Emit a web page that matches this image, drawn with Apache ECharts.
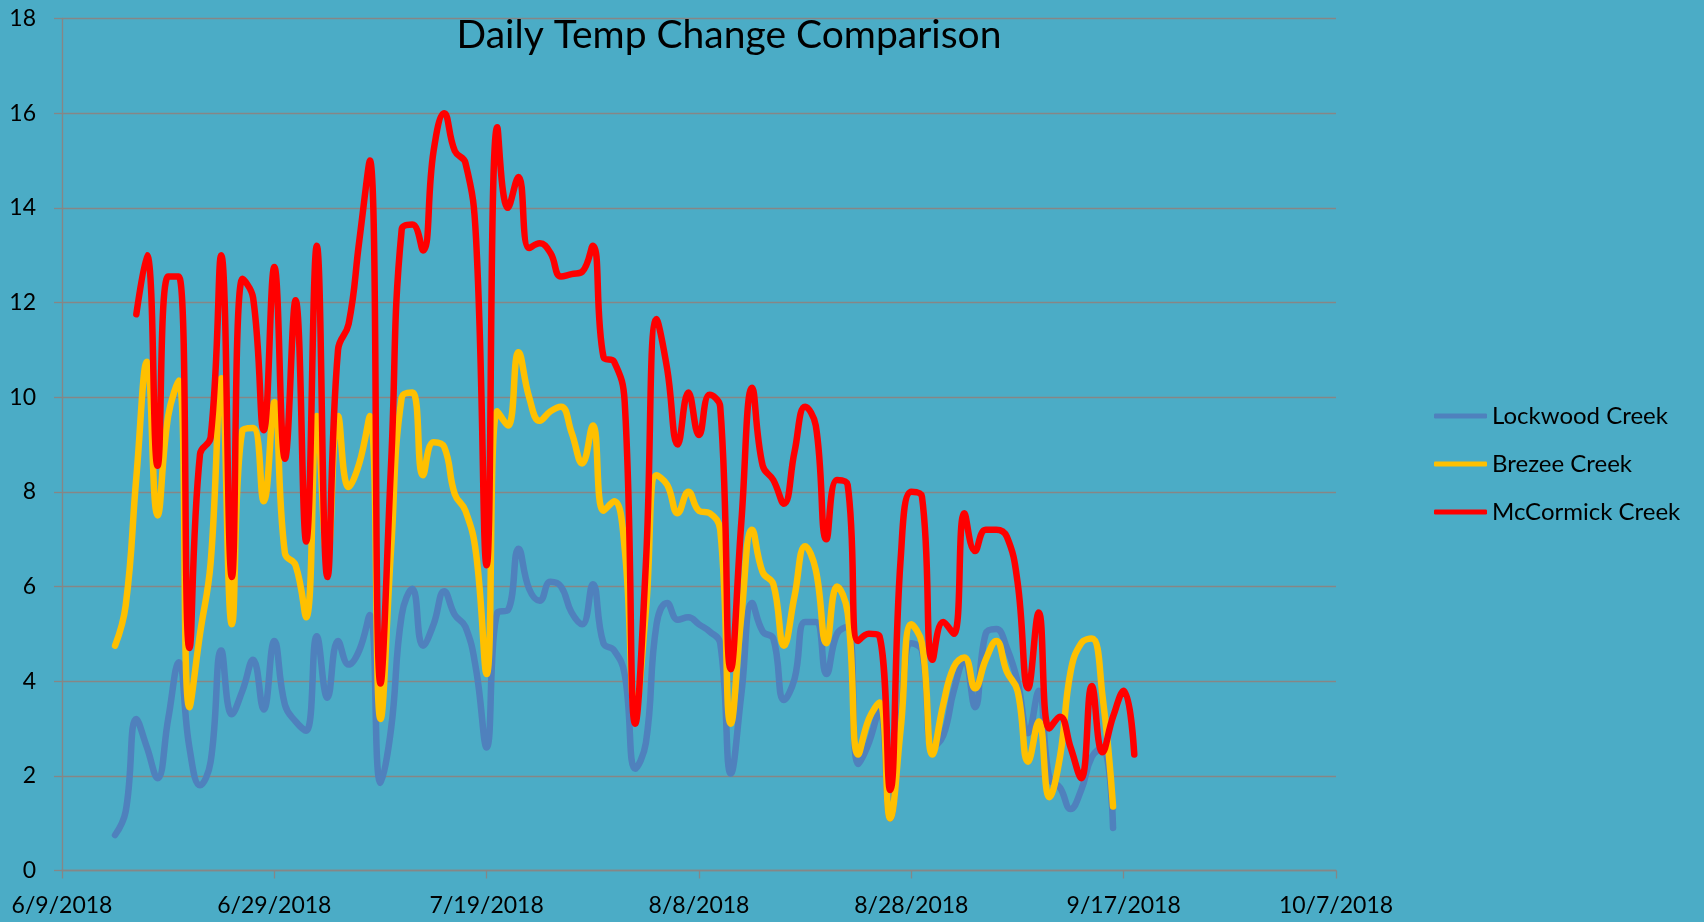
<!DOCTYPE html>
<html>
<head>
<meta charset="utf-8">
<script src="https://cdn.jsdelivr.net/npm/echarts@6/dist/echarts.min.js"></script>
<style>
  html, body { margin: 0; padding: 0; background: #4BACC6; }
  #chart { width: 1704px; height: 922px; }
</style>
</head>
<body>
<div id="chart"></div>
<script>
// ---- Data ----
const chartTitle = 'Daily Temp Change Comparison';
const axisOrigin = '2018-06-09';
const xTickLabels = ['6/9/2018', '6/29/2018', '7/19/2018', '8/8/2018', '8/28/2018', '9/17/2018', '10/7/2018'];
const yTickValues = [0, 2, 4, 6, 8, 10, 12, 14, 16, 18];

const seriesNames = ['Lockwood Creek', 'Brezee Creek', 'McCormick Creek'];

// daily values, first value on the given start date
const lockwoodStart = '2018-06-14';
const lockwoodValues = [
  0.75, 1.25, 3.2, 2.6, 1.95, 3.2, 4.4, 2.6, 1.8, 2.3,
  4.65, 3.3, 3.8, 4.45, 3.4, 4.85, 3.5, 3.15, 2.95, 4.95,
  3.65, 4.85, 4.35, 4.65, 5.4, 1.85, 3.0, 5.4, 5.95, 4.75,
  5.2, 5.9, 5.4, 5.15, 4.25, 2.6, 5.45, 5.5, 6.8, 5.95,
  5.7, 6.1, 6.0, 5.45, 5.2, 6.05, 4.8, 4.65, 4.15, 2.15,
  2.7, 5.2, 5.65, 5.3, 5.35, 5.2, 5.05, 4.8, 2.05, 3.75,
  5.65, 5.05, 4.9, 3.6, 4.05, 5.25, 5.25, 4.15, 5.0, 5.15,
  2.25, 2.7, 3.4, 1.1, 3.2, 4.8, 4.65, 2.6, 2.85, 3.8,
  4.45, 3.45, 5.0, 5.1, 4.7, 4.0, 2.9, 3.8, 1.95, 1.75,
  1.3, 1.7, 2.4, 2.6, 0.9
];

const brezeeStart = '2018-06-14';
const brezeeValues = [
  4.75, 5.6, 8.3, 10.75, 7.5, 9.6, 10.35, 3.45, 5.0, 6.5,
  10.4, 5.2, 9.3, 9.35, 7.8, 9.9, 6.7, 6.45, 5.35, 9.6,
  6.6, 9.6, 8.1, 8.6, 9.6, 3.2, 6.8, 10.0, 10.1, 8.35,
  9.05, 8.95, 7.95, 7.6, 6.7, 4.15, 9.7, 9.4, 10.95, 10.0,
  9.5, 9.7, 9.8, 9.25, 8.6, 9.4, 7.6, 7.8, 6.8, 3.4,
  5.5, 8.35, 8.15, 7.55, 8.0, 7.6, 7.55, 7.2, 3.1, 5.4,
  7.2, 6.3, 6.05, 4.75, 5.8, 6.85, 6.35, 4.8, 6.0, 5.45,
  2.45, 3.2, 3.55, 1.1, 3.0, 5.2, 4.8, 2.45, 3.5, 4.3,
  4.5, 3.85, 4.45, 4.85, 4.2, 3.8, 2.3, 3.15, 1.55, 2.4,
  4.2, 4.8, 4.9, 3.7, 1.35
];

const mccormickStart = '2018-06-16';
const mccormickValues = [
  11.75, 13.0, 8.55, 12.55, 12.55, 4.7, 8.8, 9.15, 13.0, 6.2,
  12.5, 12.1, 9.3, 12.75, 8.7, 12.05, 6.95, 13.2, 6.2, 11.0,
  11.55, 13.3, 15.0, 3.95, 8.6, 13.55, 13.65, 13.1, 15.2, 16.0,
  15.2, 14.95, 13.35, 6.45, 15.7, 14.0, 14.65, 13.15, 13.25, 13.05,
  12.55, 12.6, 12.65, 13.2, 10.85, 10.75, 9.9, 3.1, 6.5, 11.65,
  10.6, 9.0, 10.1, 9.2, 10.05, 9.8, 4.25, 7.4, 10.2, 8.55,
  8.25, 7.75, 8.85, 9.8, 9.4, 7.0, 8.25, 8.15, 4.85, 5.0,
  4.95, 1.7, 6.6, 8.0, 7.9, 4.45, 5.25, 5.0, 7.55, 6.75,
  7.2, 7.2, 7.05, 6.1, 3.85, 5.45, 3.0, 3.25, 2.6, 1.95,
  3.9, 2.5, 3.25, 3.8, 2.45
];

const seriesColors = ['#4F81BD', '#FFC000', '#FF0000'];

// ---- Build options ----
const DAY = 86400000;
function dayOffset(dateStr) {
  return Math.round((Date.parse(dateStr + 'T00:00:00Z') - Date.parse(axisOrigin + 'T00:00:00Z')) / DAY);
}
function toPairs(start, values) {
  const s = dayOffset(start);
  return values.map((v, i) => [s + i, v]);
}

const FONT = 'Lato';
const allData = [
  toPairs(lockwoodStart, lockwoodValues),
  toPairs(brezeeStart, brezeeValues),
  toPairs(mccormickStart, mccormickValues)
];

const chart = echarts.init(document.getElementById('chart'), null, { renderer: 'canvas' });
const option = {
  backgroundColor: '#4BACC6',
  animation: false,
  graphic: [{
    type: 'text',
    x: 729,
    y: 35,
    z: 100,
    style: {
      text: chartTitle,
      fill: '#000000',
      fontSize: 39,
      fontFamily: FONT,
      align: 'center',
      verticalAlign: 'middle'
    }
  }],
  grid: { left: 62, right: 368, top: 18.5, bottom: 51.5, containLabel: false },
  legend: {
    orient: 'vertical',
    left: 1429,
    top: 398,
    itemWidth: 53,
    itemHeight: 5,
    itemGap: 22,
    icon: 'roundRect',
    textStyle: { fontFamily: FONT, fontSize: 24, color: '#000', lineHeight: 26 },
    data: seriesNames
  },
  xAxis: {
    type: 'value',
    min: 0,
    max: 120,
    interval: 20,
    axisLine: { show: true, lineStyle: { color: '#868686', width: 1.3 } },
    axisTick: { show: true, length: 8, lineStyle: { color: '#868686', width: 1.3 } },
    splitLine: { show: false },
    axisLabel: {
      margin: 24,
      color: '#000',
      fontFamily: FONT,
      fontSize: 23,
      formatter: (v) => xTickLabels[Math.round(v / 20)] || ''
    }
  },
  yAxis: {
    type: 'value',
    min: yTickValues[0],
    max: yTickValues[yTickValues.length - 1],
    interval: 2,
    axisLine: { show: true, lineStyle: { color: '#868686', width: 1.3 } },
    axisTick: { show: true, length: 8, lineStyle: { color: '#868686', width: 1.3 } },
    splitLine: { show: true, lineStyle: { color: '#868686', width: 1.3 } },
    axisLabel: { margin: 26, color: '#000', fontFamily: FONT, fontSize: 23 }
  },
  series: seriesNames.map((name, i) => ({
    name,
    type: 'line',
    data: allData[i],
    smooth: 0.45,
    showSymbol: false,
    symbol: 'none',
    color: seriesColors[i],
    lineStyle: { color: seriesColors[i], width: 6.5, cap: 'round', join: 'round' },
    z: 2 + i
  }))
};
chart.setOption(option);
</script>
</body>
</html>
